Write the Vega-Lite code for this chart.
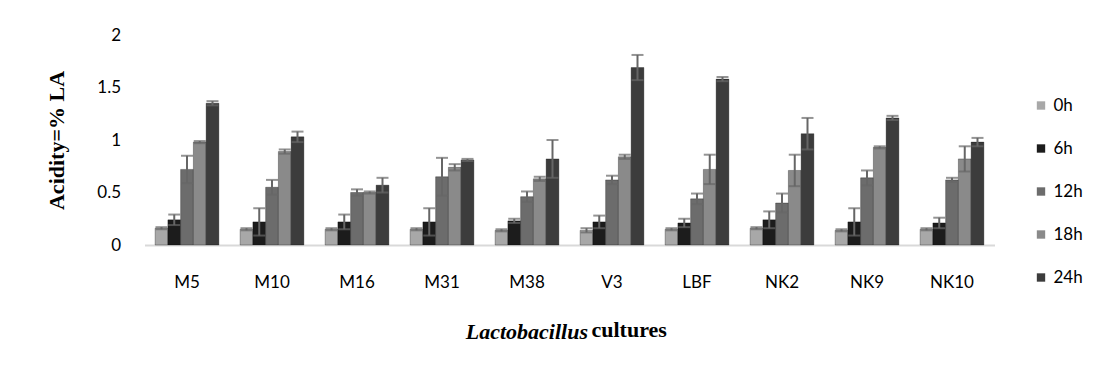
{
  "$schema": "https://vega.github.io/schema/vega-lite/v6.json",
  "width": 850,
  "height": 210,
  "autosize": {"type": "none"},
  "padding": {"left": 144.5, "top": 35, "right": 109.5, "bottom": 125},
  "background": "white",
  "title": {"text": "cultures", "orient": "bottom", "anchor": "start", "frame": "group", "dx": 447, "dy": -26, "font": "Liberation Serif", "fontSize": 22, "fontWeight": "bold", "color": "black"},
  "data": {"values": [
    {"strain":"M5","time":"0h","v":0.16,"e":0.01},{"strain":"M5","time":"6h","v":0.24,"e":0.05},{"strain":"M5","time":"12h","v":0.72,"e":0.13},{"strain":"M5","time":"18h","v":0.98,"e":0.01},{"strain":"M5","time":"24h","v":1.35,"e":0.02},
    {"strain":"M10","time":"0h","v":0.15,"e":0.01},{"strain":"M10","time":"6h","v":0.22,"e":0.13},{"strain":"M10","time":"12h","v":0.55,"e":0.07},{"strain":"M10","time":"18h","v":0.89,"e":0.02},{"strain":"M10","time":"24h","v":1.03,"e":0.05},
    {"strain":"M16","time":"0h","v":0.15,"e":0.01},{"strain":"M16","time":"6h","v":0.22,"e":0.07},{"strain":"M16","time":"12h","v":0.5,"e":0.03},{"strain":"M16","time":"18h","v":0.5,"e":0.01},{"strain":"M16","time":"24h","v":0.57,"e":0.07},
    {"strain":"M31","time":"0h","v":0.15,"e":0.01},{"strain":"M31","time":"6h","v":0.22,"e":0.13},{"strain":"M31","time":"12h","v":0.65,"e":0.18},{"strain":"M31","time":"18h","v":0.74,"e":0.03},{"strain":"M31","time":"24h","v":0.81,"e":0.01},
    {"strain":"M38","time":"0h","v":0.14,"e":0.01},{"strain":"M38","time":"6h","v":0.23,"e":0.02},{"strain":"M38","time":"12h","v":0.46,"e":0.05},{"strain":"M38","time":"18h","v":0.63,"e":0.02},{"strain":"M38","time":"24h","v":0.82,"e":0.18},
    {"strain":"V3","time":"0h","v":0.14,"e":0.02},{"strain":"V3","time":"6h","v":0.22,"e":0.06},{"strain":"V3","time":"12h","v":0.62,"e":0.04},{"strain":"V3","time":"18h","v":0.84,"e":0.02},{"strain":"V3","time":"24h","v":1.69,"e":0.12},
    {"strain":"LBF","time":"0h","v":0.15,"e":0.01},{"strain":"LBF","time":"6h","v":0.21,"e":0.04},{"strain":"LBF","time":"12h","v":0.44,"e":0.05},{"strain":"LBF","time":"18h","v":0.72,"e":0.14},{"strain":"LBF","time":"24h","v":1.58,"e":0.02},
    {"strain":"NK2","time":"0h","v":0.16,"e":0.01},{"strain":"NK2","time":"6h","v":0.24,"e":0.08},{"strain":"NK2","time":"12h","v":0.4,"e":0.09},{"strain":"NK2","time":"18h","v":0.71,"e":0.15},{"strain":"NK2","time":"24h","v":1.06,"e":0.15},
    {"strain":"NK9","time":"0h","v":0.14,"e":0.01},{"strain":"NK9","time":"6h","v":0.22,"e":0.13},{"strain":"NK9","time":"12h","v":0.64,"e":0.07},{"strain":"NK9","time":"18h","v":0.93,"e":0.01},{"strain":"NK9","time":"24h","v":1.21,"e":0.02},
    {"strain":"NK10","time":"0h","v":0.15,"e":0.01},{"strain":"NK10","time":"6h","v":0.21,"e":0.05},{"strain":"NK10","time":"12h","v":0.62,"e":0.02},{"strain":"NK10","time":"18h","v":0.82,"e":0.12},{"strain":"NK10","time":"24h","v":0.98,"e":0.04}
  ]},
  "config": {
    "view": {"stroke": null},
    "axis": {"labelFont": "Lato", "labelFontSize": 17, "labelColor": "black", "titleColor": "black", "titleFont": "Liberation Serif", "titleFontWeight": "bold", "grid": false, "ticks": false, "tickSize": 0}
  },
  "encoding": {
    "x": {"field": "strain", "type": "nominal", "sort": null,
      "scale": {"paddingInner": 0.25, "paddingOuter": 0.125},
      "axis": {"labelAngle": 0, "labelPadding": 29, "domainColor": "#d9d9d9", "domainWidth": 2,
        "title": "Lactobacillus", "titleFontStyle": "italic", "titleFontSize": 22, "titleAlign": "right", "titleAnchor": "start", "titleX": 443, "titleY": 93, "titleBaseline": "alphabetic"}},
    "xOffset": {"field": "time", "type": "nominal", "sort": ["0h","6h","12h","18h","24h"], "scale": {"paddingInner": 0, "paddingOuter": 0}}
  },
  "layer": [
    {
      "mark": {"type": "bar", "stroke": "black", "strokeWidth": 0.3},
      "encoding": {
        "y": {"field": "v", "type": "quantitative", "scale": {"domain": [0, 2]}, "title": "Acidity=% LA",
          "axis": {"values": [0, 0.5, 1, 1.5, 2], "format": "~g", "domain": false, "labelPadding": 24, "titleFontSize": 22, "titlePadding": 28}},
        "color": {"field": "time", "type": "nominal", "sort": ["0h","6h","12h","18h","24h"],
          "scale": {"domain": ["0h","6h","12h","18h","24h"], "range": ["#a8a8a8", "#1c1c1c", "#6c6c6c", "#8a8a8a", "#3c3c3c"]},
          "legend": {"title": null, "orient": "none", "legendX": 888, "legendY": 62, "symbolType": "square", "symbolSize": 70, "symbolStrokeWidth": 0, "labelFont": "Lato", "labelFontSize": 17, "labelColor": "black", "rowPadding": 25, "labelOffset": 4}}
      }
    },
    {
      "mark": {"type": "errorbar", "ticks": {"size": 12, "thickness": 2, "color": "#666666"}, "rule": {"strokeWidth": 2, "color": "#666666"}},
      "encoding": {
        "y": {"field": "v", "type": "quantitative", "title": "Acidity=% LA"},
        "yError": {"field": "e"}
      }
    }
  ]
}
